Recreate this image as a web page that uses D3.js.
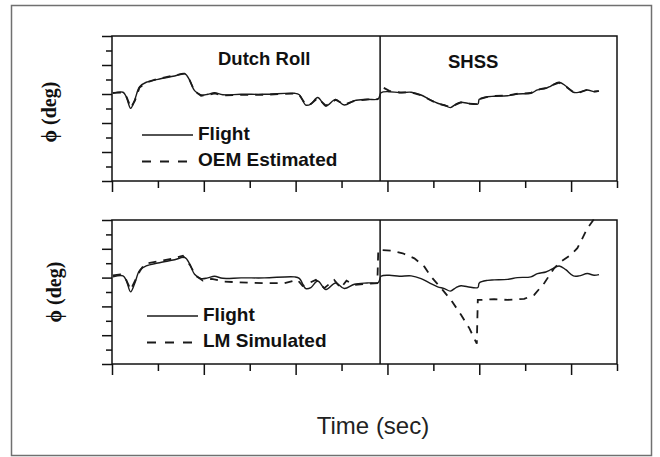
<!DOCTYPE html>
<html>
<head>
<meta charset="utf-8">
<script src="https://cdn.jsdelivr.net/npm/d3@7"></script>
<style>
  body { margin: 0; background: #fff; }
  svg { display: block; }
</style>
</head>
<body>
<svg id="chart"></svg>
<script>
// roll angle: time in sec, phi in deg
const flightTime = [0.1, 1.2, 1.55, 2.03, 2.47, 3.01, 3.73, 5.0, 6.82, 7.9, 8.45, 8.99, 9.71, 10.43, 11.16, 12.07, 14.05, 16.6, 19.86, 20.4, 21.1, 21.66, 22.4, 23.3, 24.35, 25.3, 26.4, 27.8, 29.0, 29.3, 30.2, 31.3, 32.58, 33.66, 34.57, 35.47, 36.2, 36.85, 37.47, 38.01, 38.73, 39.85, 40.0, 40.9, 41.63, 43.08, 44.16, 45.62, 46.34, 47.25, 47.79, 48.7, 49.42, 50.25, 50.87, 51.77, 52.5, 53.04];
const flightPhi = [0.05, 0.12, -0.19, -0.99, -0.41, 0.5, 0.81, 1.01, 1.24, 1.4, 0.97, 0.23, -0.07, -0.02, 0.09, -0.05, -0.02, -0.02, 0.05, -0.05, -0.76, -0.69, -0.24, -0.83, -0.37, -0.76, -0.46, -0.37, -0.34, 0.09, 0.16, 0.09, 0.12, -0.07, -0.37, -0.64, -0.76, -0.94, -0.69, -0.57, -0.64, -0.69, -0.37, -0.19, -0.16, -0.12, 0, 0.05, 0.28, 0.39, 0.55, 0.81, 0.55, 0.12, 0.12, 0.28, 0.16, 0.21];

const oemTime = [0.1, 1.2, 1.6, 2.05, 2.5, 3.0, 3.7, 5.0, 6.8, 7.9, 8.45, 9.0, 9.7, 10.4, 11.2, 12.1, 14.0, 16.6, 19.9, 20.4, 21.1, 21.7, 22.4, 23.3, 24.35, 25.3, 26.4, 27.8, 29.0, 29.3, 29.6, 30.2, 31.3, 32.6, 33.7, 34.6, 35.5, 36.2, 36.85, 37.5, 38.0, 38.7, 39.85, 40.0, 40.9, 41.6, 43.1, 44.2, 45.6, 46.3, 47.3, 47.8, 48.7, 49.4, 50.25, 50.9, 51.8, 52.5, 53.0];
const oemPhi = [0.08, 0.1, -0.22, -0.95, -0.45, 0.45, 0.78, 1.05, 1.28, 1.4, 0.95, 0.2, -0.12, -0.06, 0.04, -0.1, -0.06, -0.05, 0.03, -0.07, -0.72, -0.66, -0.28, -0.8, -0.4, -0.73, -0.48, -0.38, -0.36, null, 0.42, 0.22, 0.12, 0.1, -0.1, -0.4, -0.68, -0.78, -0.9, -0.72, -0.58, -0.66, -0.7, -0.35, -0.2, -0.14, -0.1, 0.02, 0.07, 0.3, 0.42, 0.58, 0.78, 0.52, 0.14, 0.1, 0.3, 0.18, 0.2];

const lmTime = [0.1, 0.9, 1.5, 2.03, 2.5, 3.04, 3.55, 5.36, 6.52, 7.72, 8.48, 9.13, 9.89, 10.87, 12.25, 14.78, 16.6, 18.77, 20.2, 20.76, 22.2, 23.12, 24.2, 24.92, 25.54, 26.41, 27.5, 28.9, 29.0, 30.4, 31.66, 32.93, 34.02, 34.75, 35.84, 36.92, 38.01, 38.91, 39.73, 39.84, 40.18, 41.63, 43.08, 44.89, 45.98, 47.07, 48.15, 48.88, 49.97, 50.68, 51.23, 51.77, 52.68];
const lmPhi = [0.15, 0.22, -0.09, -0.85, -0.23, 0.46, 0.95, 1.18, 1.3, 1.52, 0.88, 0.12, -0.21, -0.09, -0.28, -0.35, -0.39, -0.39, -0.16, -0.58, -0.16, -0.73, -0.16, -0.73, -0.21, -0.51, -0.44, -0.39, 1.92, 1.87, 1.69, 1.34, 0.76, 0.07, -0.73, -1.55, -2.58, -3.51, -4.59, -1.55, -1.55, -1.5, -1.55, -1.48, -1.2, -0.39, 0.65, 1.11, 1.57, 2.04, 2.73, 3.42, 4.23];

const maneuvers = ["Dutch Roll", "SHSS"];
const maneuverSplit = 29.2;
const majorTimeTicks = [0, 10, 20, 30, 40, 50];
const minorTimeTicks = [5, 15, 25, 35, 45, 55];
const majorPhiTicks = [-6, -4, -2, 0, 2, 4];
const minorPhiTicks = [-5, -3, -1, 1, 3];
const seriesNames = ["Flight", "OEM Estimated", "LM Simulated"];
const yLabel = "\u03d5 (deg)";
const xLabel = "Time (sec)";

const width = 660;
const height = 457;
const sans = "'Liberation Sans', Arial, Helvetica, sans-serif";
const serif = "'Liberation Serif', 'DejaVu Serif', 'Times New Roman', serif";

const svg = d3.select("#chart").attr("width", width).attr("height", height);

// outer figure border
svg
  .append("rect")
  .attr("x", 11.5)
  .attr("y", 5.5)
  .attr("width", 640)
  .attr("height", 450)
  .attr("fill", "none")
  .attr("stroke", "#707070")
  .attr("stroke-width", 1.5);

const xScale = d3.scaleLinear().domain([0, 55]).range([112, 617]);

const zip = (ts, vs) => ts.map((t, i) => ({ t, v: vs[i] }));
const flight = zip(flightTime, flightPhi);

const panels = [
  { top: 36, bottom: 181, model: zip(oemTime, oemPhi), name: seriesNames[1], legendX: 142, legendY: 135, labelX: 49, labelY: 112, titles: true },
  { top: 220, bottom: 364, model: zip(lmTime, lmPhi), name: seriesNames[2], legendX: 147, legendY: 316, labelX: 54, labelY: 292, titles: false }
];

const styleAxis = (sel) => {
  sel.select(".domain").remove();
  sel.selectAll(".tick line").attr("stroke", "#111").attr("stroke-width", 1.5);
};

panels.forEach((p) => {
  const yScale = d3.scaleLinear().domain([-6, 4]).range([p.bottom, p.top]);
  const g = svg.append("g");

  // outward ticks, long on the even values
  g.append("g")
    .attr("transform", `translate(${xScale(0)},0)`)
    .call(d3.axisLeft(yScale).tickValues(majorPhiTicks).tickSize(10).tickFormat(""))
    .call(styleAxis);
  g.append("g")
    .attr("transform", `translate(${xScale(0)},0)`)
    .call(d3.axisLeft(yScale).tickValues(minorPhiTicks).tickSize(6).tickFormat(""))
    .call(styleAxis);
  g.append("g")
    .attr("transform", `translate(0,${p.bottom})`)
    .call(d3.axisBottom(xScale).tickValues(majorTimeTicks).tickSize(11).tickFormat(""))
    .call(styleAxis);
  g.append("g")
    .attr("transform", `translate(0,${p.bottom})`)
    .call(d3.axisBottom(xScale).tickValues(minorTimeTicks).tickSize(7).tickFormat(""))
    .call(styleAxis);

  g.append("rect")
    .attr("x", xScale(0))
    .attr("y", p.top)
    .attr("width", xScale(55) - xScale(0))
    .attr("height", p.bottom - p.top)
    .attr("fill", "none")
    .attr("stroke", "#111")
    .attr("stroke-width", 1.5);

  g.append("line")
    .attr("x1", xScale(maneuverSplit))
    .attr("x2", xScale(maneuverSplit))
    .attr("y1", p.top)
    .attr("y2", p.bottom)
    .attr("stroke", "#111")
    .attr("stroke-width", 1.5);

  const flightLine = d3
    .line()
    .x((d) => xScale(d.t))
    .y((d) => yScale(d.v))
    .curve(d3.curveCatmullRom.alpha(0.5));

  const modelLine = d3
    .line()
    .defined((d) => d.v !== null)
    .x((d) => xScale(d.t))
    .y((d) => yScale(d.v));

  g.append("path")
    .datum(p.model)
    .attr("d", modelLine)
    .attr("fill", "none")
    .attr("stroke", "#1a1a1a")
    .attr("stroke-width", 1.8)
    .attr("stroke-dasharray", "8,7");

  g.append("path")
    .datum(flight)
    .attr("d", flightLine)
    .attr("fill", "none")
    .attr("stroke", "#1a1a1a")
    .attr("stroke-width", 1.4);

  // legend
  const lg = g.append("g").attr("transform", `translate(${p.legendX},${p.legendY})`);
  lg.append("line").attr("x1", 0).attr("x2", 51).attr("y1", 0).attr("y2", 0)
    .attr("stroke", "#1a1a1a").attr("stroke-width", 1.3);
  lg.append("line").attr("x1", 0).attr("x2", 45).attr("y1", 26.5).attr("y2", 26.5)
    .attr("stroke", "#1a1a1a").attr("stroke-width", 1.8).attr("stroke-dasharray", "9,9");
  lg.selectAll("text")
    .data([seriesNames[0], p.name])
    .enter()
    .append("text")
    .attr("x", 56)
    .attr("y", (d, i) => 5 + i * 26)
    .style("font-family", sans)
    .style("font-weight", "bold")
    .style("font-size", "19px")
    .style("fill", "#111")
    .text((d) => d);

  g.append("text")
    .attr("transform", `translate(${p.labelX},${p.labelY}) rotate(-90)`)
    .attr("text-anchor", "middle")
    .attr("dy", "0.35em")
    .style("font-family", serif)
    .style("font-weight", "bold")
    .style("font-size", "20px")
    .style("fill", "#111")
    .text(yLabel);

  if (p.titles) {
    g.selectAll(".title")
      .data(maneuvers)
      .enter()
      .append("text")
      .attr("class", "title")
      .attr("x", (d, i) => (i === 0 ? 218 : 448))
      .attr("y", (d, i) => (i === 0 ? 65 : 68))
      .style("font-family", sans)
      .style("font-weight", "bold")
      .style("font-size", "18.5px")
      .style("fill", "#111")
      .text((d) => d);
  }
});

svg
  .append("text")
  .attr("x", 373)
  .attr("y", 434)
  .attr("text-anchor", "middle")
  .style("font-family", sans)
  .style("font-size", "24px")
  .style("fill", "#222")
  .text(xLabel);
</script>
</body>
</html>
